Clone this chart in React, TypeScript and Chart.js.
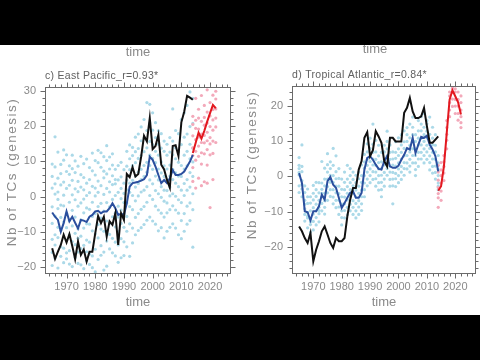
import { useEffect, useRef } from "react";
import { Chart, registerables } from "chart.js";
Chart.register(...registerables);

// ---------- data ----------
const histYears = [1965,1966,1967,1968,1969,1970,1971,1972,1973,1974,1975,1976,1977,1978,1979,1980,1981,1982,1983,1984,1985,1986,1987,1988,1989,1990,1991,1992,1993,1994,1995,1996,1997,1998,1999,2000,2001,2002,2003,2004,2005,2006,2007,2008,2009,2010,2011,2012,2013,2014];
const projYears = [2014,2015,2016,2017,2018,2019,2020,2021,2022];

const xMajorTicks = [1970,1980,1990,2000,2010,2020];
const epYTicks = [-20,-10,0,10,20,30];
const taYTicks = [-20,-10,0,10,20];

// East Pacific
const epObs = [-14.6,-17.6,-15.6,-13.7,-10.8,-13,-10.6,-14,-17.7,-12.7,-16.5,-15,-18.4,-15.6,-15.6,-10.4,-5.5,-7.5,-5.7,-11.3,-7,-8,-4.7,-13.7,-4.7,-6.6,6.4,5.5,8.3,5.7,6.4,11.3,17.2,15.6,22.2,13.4,14.3,17.5,9,7.7,4.7,2.5,14.3,14.5,11.5,21,24,28.5,28,27.4];
const epHist = [-4.5,-5.7,-6.6,-9.9,-7.5,-4.2,-7,-5.7,-7.4,-9,-6.6,-6.8,-7.2,-5.7,-5.2,-4.2,-4,-4.7,-4.2,-4.2,-3.3,-1.9,-3.3,-5.2,-4.9,-5.2,-1.9,2.8,3.8,4,4.2,4.5,4.9,6.1,11.3,10.4,8.5,6.1,3.8,4.7,3.8,5.2,7.5,6.1,6.1,6.4,7.1,8.5,9.9,11.8];
const epProj = [12.3,15.2,18.1,16.4,18.6,21.2,23.6,25.9,25];
const epHistMembers = [
  [-19.5,-15.8,-7.6,-2.9,2.4,5.7,9.2,-12.1],
  [-17.4,-10.8,-5.5,0.7,3.6,8.4,16.9,-13.7],
  [-20.2,-11.6,-8.7,-3.4,1.3,5.2,12.6,-0.8],
  [-16.9,-14.2,-9.6,-5.9,-2.4,3.3,9.1,6.5],
  [-18.7,-14.6,-7.2,-2.6,0.4,4.1,10.3,13.2],
  [-17.6,-15.9,-8.8,-4.7,2.3,7.1,11.8,-12.4],
  [-15.3,-10.9,-6.8,-1.6,3.2,6.3,8.7,-19.1],
  [-19.8,-12.7,-8.3,-3.9,0.5,4.6,7.9,11.7],
  [-17.2,-13.6,-10.4,-5.8,-0.9,2.2,6.8,10.1],
  [-15.7,-11.8,-9.1,-2.7,1.4,4.3,8.6,-18.9],
  [-19.3,-14.7,-11.2,-6.6,-1.8,2.7,6.2,11.4],
  [-20.4,-13.8,-8.9,-4.6,-0.7,1.9,5.4,9.3],
  [-18.1,-15.6,-12.3,-7.7,-3.2,0.3,3.8,10.6],
  [-19.2,-12.9,-7.8,-3.6,1.1,4.8,8.2,-16.3],
  [-20.1,-16.8,-9.7,-5.6,-1.6,2.9,7.3,12.3],
  [-21.3,-14.9,-10.6,-4.8,0.2,2.4,6.1,10.2],
  [-17.8,-11.7,-7.9,-2.8,1.2,4.4,9.6,13.1],
  [-16.6,-13.9,-9.2,-6.1,-1.9,3.1,8.3,12.4],
  [-20.8,-15.7,-9.8,-4.1,0.6,5.3,7.2,11.3],
  [-19.7,-12.6,-6.9,-1.7,2.3,6.4,10.2,14.4],
  [-14.8,-10.7,-7.6,-2.9,1.3,4.2,7.8,11.2],
  [-15.9,-11.8,-5.7,-0.8,3.4,5.9,8.9,12.1],
  [-16.8,-12.9,-8.6,-4.7,0.3,3.6,7.7,4.8],
  [-18.6,-13.7,-9.9,-5.8,-2.7,1.2,4.7,8.8],
  [-17.3,-11.9,-7.6,-3.8,-0.6,2.3,5.6,9.7],
  [-16.7,-12.8,-8.7,-4.9,-1.7,0.9,3.8,7.6],
  [-14.2,-9.8,-5.6,-1.8,1.9,4.7,8.6,12.8],
  [-16.9,-7.7,-2.8,1.2,3.8,7.6,10.7,14.6],
  [-13.1,-8.9,-3.7,0.3,4.6,8.8,11.6,13.9],
  [-10.8,-5.9,-1.2,2.7,5.8,9.6,12.7,16.8],
  [-9.6,-4.8,0.2,3.7,6.9,10.8,13.6,17.7],
  [-8.8,-3.6,1.3,4.8,7.7,11.6,15.8,19.7],
  [-7.9,-2.8,1.8,5.7,8.8,12.7,16.6,21.8],
  [-6.7,-1.6,2.8,6.9,9.7,13.8,18.7,26.6],
  [-5.8,0.3,4.7,8.8,11.7,15.6,20.8,26.1],
  [-6.9,-0.8,3.6,7.7,10.8,14.7,18.8,23.7],
  [-7.8,-2.7,1.7,5.8,9.6,12.8,16.7,20.9],
  [-9.7,-3.8,0.8,4.7,7.8,11.7,14.8,18.6],
  [-8.8,-4.7,-0.2,2.8,6.7,9.8,13.7,17.8],
  [-11.7,-5.8,-1.3,1.8,5.7,8.7,12.8,15.7],
  [-9.8,-4.6,-1.8,1.7,4.8,7.8,11.7,14.8],
  [-8.7,-3.7,0.2,2.7,5.8,8.9,12.6,16.7],
  [-7.7,-2.6,0.8,4.8,7.7,11.8,15.7,24.8],
  [-8.9,-3.8,0.1,3.8,6.7,10.7,13.8,18.7],
  [-10.8,-4.7,-0.9,2.8,5.8,9.7,12.7,17.8],
  [-11.9,-6.8,-1.7,1.8,5.7,8.8,14.7,21.8],
  [-9.8,-4.8,0.3,3.7,7.8,11.7,16.8,23.7],
  [-7.8,-2.7,1.8,4.8,8.7,12.8,17.7,25.8],
  [-6.8,-1.8,2.7,6.8,10.7,14.8,19.8,29.6],
  [-14.3,-3.7,0.8,5.7,9.8,13.7,20.7,27.8],
];
const epProjMembers = [
  [4.3,8.2,11.6,13.8,17.2,20.4,22.7],
  [2.4,10.3,12.8,16.1,19.3,21.6,27.8],
  [5.2,11.4,14.3,16.8,19.1,22.2,24.7],
  [3.1,9.2,12.4,15.3,17.7,21.3,28.6],
  [4.2,12.1,15.2,17.3,20.2,22.4,25.8],
  [3.8,8.9,13.3,15.8,18.2,20.8,23.9,30.2],
  [-3.1,11.8,14.9,16.7,19.8,22.8,26.6],
  [4.8,12.2,15.7,18.8,21.7,24.6,28.7,31.2],
  [15.3,19.7,22.2,24.8,27.6,29.8],
];

// Tropical Atlantic
const taObs = [-14.2,-15.6,-17.5,-18.9,-16.1,-24.1,-20.8,-18.4,-15.6,-14.2,-16.5,-18.9,-20.3,-17.5,-18.4,-18.4,-17.5,-11.3,-6.6,-3.3,-3.3,1.9,4.3,10.9,12.5,5.7,7.4,12.8,11.3,9.5,4.3,2.8,10.9,10.9,9.9,9.9,9.9,18,19.4,22.2,18.4,16.5,16.5,17,19.4,14.2,9.5,9.5,10.4,11.3];
const taHist = [0.9,-1.9,-9.9,-10.2,-12.5,-9.9,-9.9,-8.5,-5.2,-6.6,-1.4,-0.2,-2.4,-3.3,-6.1,-9,-7.6,-6.1,-4.7,-4.3,-6.1,-6.1,-4.7,1.9,5.2,5.7,4.7,3.3,2.1,1.9,4.3,5.7,2.8,2.4,2.4,3,4.7,6.1,8,7.6,10.9,6.6,9,11.2,10.9,11.5,9,7.6,5.7,1.4];
const taProj = [-4.1,-2.8,2.8,12.3,21.7,24.4,22.7,21,17.5];
const taHistMembers = [
  [-4.6,-2.7,0.4,2.2,3.1,5.3,1.1],
  [-5.8,-3.6,-1.2,1.3,2.8,8.9,-2.3],
  [-12.7,-10.8,-9.2,-6.8,-4.6,-2.7,-7.9],
  [-14.6,-11.8,-10.3,-7.7,-5.8,-3.6,-11.3],
  [-15.8,-13.7,-12.2,-9.8,-7.6,-5.8,-12.9],
  [-15.2,-12.8,-10.7,-8.9,-6.7,-4.8,-2.6],
  [-13.8,-11.7,-9.8,-7.9,-5.7,-3.8,-1.7],
  [-12.9,-10.6,-8.8,-6.8,-4.7,-1.8,-9.7],
  [-9.8,-7.7,-5.8,-3.7,-1.9,4.2,-4.8],
  [-10.7,-8.8,-6.9,-4.8,-2.7,-0.8,2.3],
  [-6.8,-4.7,-2.9,-0.8,1.2,3.3,6.4],
  [-5.7,-3.8,-1.7,0.3,2.2,4.1,-0.9],
  [-7.8,-5.9,-3.8,-1.7,0.2,7.9,3.1],
  [-8.9,-6.8,-4.7,-2.8,-0.7,1.3,5.8],
  [-10.8,-8.7,-6.8,-4.9,-2.8,-0.6,2.2],
  [-13.8,-11.7,-9.8,-7.9,-5.8,-3.7,-0.8],
  [-11.8,-9.7,-7.8,-5.9,-3.8,-1.7,1.2],
  [-10.9,-8.8,-6.7,-4.8,-2.9,-0.8,3.1],
  [-9.8,-7.9,-5.7,-3.8,-1.8,0.2,2.2],
  [-8.8,-6.9,-4.8,-2.7,-0.9,1.2,-10.8],
  [-11.8,-9.8,-7.7,-5.8,-3.9,-1.8,0.3],
  [-10.8,-8.7,-6.9,-4.8,-2.8,-0.7,1.2],
  [-9.7,-7.8,-5.8,-3.9,-1.7,0.2,3.2],
  [-3.8,-1.9,0.2,2.3,4.1,6.2,-5.8],
  [-0.8,1.2,3.1,4.8,6.9,9.2,-2.7],
  [0.2,2.1,4.2,5.8,7.9,10.8,-1.8],
  [-0.9,1.3,3.2,4.9,6.8,9.1,14.8],
  [-2.8,-0.7,1.2,3.1,4.8,6.9,10.2],
  [-3.9,-1.8,0.2,2.1,3.9,5.8,8.8],
  [-3.8,-1.7,0.3,2.2,4.1,6.8,-5.8],
  [-0.8,1.1,3.2,4.8,6.9,8.8,-2.8],
  [0.3,2.2,3.9,5.8,7.8,9.9,12.8],
  [-2.8,-0.9,1.2,2.9,4.8,6.8,8.9],
  [-2.7,-0.8,1.1,3.2,4.9,6.9,-7.8],
  [-2.9,-0.7,0.8,2.9,5.1,6.8,9.8],
  [-1.8,0.2,2.1,3.8,5.9,7.8,10.9],
  [-0.9,1.2,2.8,4.9,6.8,8.9,11.8],
  [0.3,2.2,3.9,5.8,7.9,9.8,12.9],
  [2.1,3.8,5.9,7.8,9.9,11.8,13.8],
  [1.2,2.9,4.8,6.9,8.8,10.9,14.8],
  [3.8,5.9,7.8,9.9,11.8,13.9,16.8],
  [0.2,1.9,3.8,5.9,7.8,9.9,11.8],
  [2.8,4.9,6.8,8.9,10.8,12.9,15.8],
  [4.9,6.8,8.9,10.8,12.9,14.8,16.9],
  [3.8,5.9,7.8,9.9,11.8,13.9,17.8],
  [4.8,6.9,8.8,10.9,12.8,14.9,15.8],
  [1.8,3.9,5.8,7.9,9.8,11.9,16.8],
  [0.9,2.8,4.9,6.8,8.9,10.8,13.9],
  [-0.8,1.1,2.9,4.8,6.9,8.8,11.8],
  [-3.8,-1.9,0.2,1.9,3.8,5.9,-2.8],
];
const taProjMembers = [
  [-8.8,-6.1,-4.9,-3.2,-1.1,1.2,3.1],
  [-6.8,-4.2,-1.9,0.2,1.8,3.9],
  [-1.2,0.9,2.8,4.1,5.9],
  [7.8,10.2,11.9,13.8,15.8],
  [16.9,18.8,20.9,22.8,23.9],
  [19.8,21.9,23.8,24.9,25.4],
  [17.8,19.9,21.8,23.9,24.8],
  [15.9,17.8,19.9,21.8,23.9],
  [13.8,15.2,16.9,18.8,20.9,22.8],
];

// ---------- helpers ----------
const FONT = "'Liberation Sans', Arial, sans-serif";
const TXT = "#8a8a8a";

function membersToPoints(yrs: number[], members: number[][]) {
  const pts: { x: number; y: number }[] = [];
  yrs.forEach((yr, i) => members[i].forEach((v) => pts.push({ x: yr, y: v })));
  return pts;
}
function seriesToPoints(yrs: number[], vals: number[]) {
  return yrs.map((yr, i) => ({ x: yr, y: vals[i] }));
}
function range(a: number, b: number, s: number) {
  const r: number[] = [];
  for (let v = a; v <= b + 1e-9; v += s) r.push(v);
  return r;
}

type PanelCfg = {
  title: string;
  yMin: number;
  yMax: number;
  yTicks: number[];
  obs: number[];
  hist: number[];
  proj: number[];
  histMembers: number[][];
  projMembers: number[][];
  padding: { left: number; right: number; top: number; bottom: number };
  yTitlePos: [number, number];
  topTimePos: [number, number];
};

function framePlugin(cfg: PanelCfg) {
  return {
    id: "frame",
    afterDraw(chart: any) {
      const { ctx, chartArea: a, scales } = chart;
      const xs = scales.x;
      const ys = scales.y;
      ctx.save();
      ctx.strokeStyle = "#6a6a6a";
      ctx.lineWidth = 1;
      const L = Math.round(a.left) + 0.5;
      const R = Math.round(a.right) - 0.5;
      const T = Math.round(a.top) + 0.5;
      const B = Math.round(a.bottom) - 0.5;
      ctx.strokeRect(L, T, R - L, B - T);
      ctx.beginPath();
      const xMinor = range(1964, 2026, 2);
      xMinor.forEach((v) => {
        const px = Math.round(xs.getPixelForValue(v)) + 0.5;
        const len = xMajorTicks.includes(v) ? 5 : 3;
        ctx.moveTo(px, B);
        ctx.lineTo(px, B + len);
        ctx.moveTo(px, T);
        ctx.lineTo(px, T - len);
      });
      const start = Math.ceil(cfg.yMin / 2) * 2;
      const yMinor = range(start, cfg.yMax, 2);
      yMinor.forEach((v) => {
        const py = Math.round(ys.getPixelForValue(v)) + 0.5;
        const len = cfg.yTicks.includes(v) ? 5 : 3;
        ctx.moveTo(L, py);
        ctx.lineTo(L - len, py);
        ctx.moveTo(R, py);
        ctx.lineTo(R + len, py);
      });
      ctx.stroke();

      ctx.fillStyle = TXT;
      ctx.font = `11px ${FONT}`;
      ctx.textAlign = "center";
      ctx.textBaseline = "middle";
      xMajorTicks.forEach((v) => {
        ctx.fillText(String(v), xs.getPixelForValue(v), a.bottom + 13);
      });
      ctx.textAlign = "right";
      cfg.yTicks.forEach((v) => {
        const lbl = v < 0 ? "\u2212" + Math.abs(v) : String(v);
        ctx.fillText(lbl, a.left - 9, ys.getPixelForValue(v));
      });

      ctx.font = `13px ${FONT}`;
      ctx.textAlign = "center";
      ctx.fillText("time", (a.left + a.right) / 2, a.bottom + 28);
      ctx.fillText("time", cfg.topTimePos[0], cfg.topTimePos[1]);

      ctx.save();
      ctx.translate(cfg.yTitlePos[0], cfg.yTitlePos[1]);
      ctx.rotate(-Math.PI / 2);
      ctx.font = `13.5px ${FONT}`;
      (ctx as any).letterSpacing = "1.5px";
      ctx.fillText("Nb of TCs (genesis)", 0, 0);
      ctx.restore();

      ctx.fillStyle = "#606060";
      ctx.font = `10.5px ${FONT}`;
      (ctx as any).letterSpacing = "0.3px";
      ctx.textAlign = "left";
      ctx.fillText(cfg.title, a.left, a.top - 11);
      ctx.restore();
    },
  };
}

function Panel({ cfg, left }: { cfg: PanelCfg; left: number }) {
  const ref = useRef<HTMLCanvasElement>(null);
  useEffect(() => {
    if (!ref.current) return;
    const chart = new Chart(ref.current, {
      type: "scatter",
      data: {
        datasets: [
          {
            label: "obs",
            data: seriesToPoints(histYears, cfg.obs),
            showLine: true,
            borderColor: "#111111",
            borderWidth: 2,
            pointRadius: 0,
            order: 1,
          } as any,
          {
            label: "hist",
            data: seriesToPoints(histYears, cfg.hist),
            showLine: true,
            borderColor: "#2b4f9e",
            borderWidth: 2,
            pointRadius: 0,
            order: 2,
          },
          {
            label: "proj",
            data: seriesToPoints(projYears, cfg.proj),
            showLine: true,
            borderColor: "#e3181f",
            borderWidth: 2,
            pointRadius: 0,
            order: 3,
          },
          {
            label: "histMembers",
            data: membersToPoints(histYears, cfg.histMembers),
            backgroundColor: "#abd9e8",
            borderWidth: 0,
            pointRadius: 1.6,
            order: 10,
          },
          {
            label: "projMembers",
            data: membersToPoints(projYears, cfg.projMembers),
            backgroundColor: "#f3a9ba",
            borderWidth: 0,
            pointRadius: 1.6,
            order: 9,
          },
        ],
      },
      options: {
        animation: false,
        responsive: false,
        events: [],
        layout: { padding: cfg.padding },
        plugins: { legend: { display: false }, tooltip: { enabled: false }, title: { display: false } },
        scales: {
          x: { type: "linear", min: 1962.5, max: 2027.3, display: false },
          y: { type: "linear", min: cfg.yMin, max: cfg.yMax, display: false },
        },
      },
      plugins: [framePlugin(cfg)],
    });
    return () => chart.destroy();
  }, [cfg]);
  return (
    <canvas
      ref={ref}
      width={240}
      height={270}
      style={{ position: "absolute", left, top: 45, width: 240, height: 270 }}
    />
  );
}

const epCfg: PanelCfg = {
  title: "c) East Pacific_r=0.93*",
  yMin: -21.9,
  yMax: 31.0,
  yTicks: epYTicks,
  obs: epObs,
  hist: epHist,
  proj: epProj,
  histMembers: epHistMembers,
  projMembers: epProjMembers,
  padding: { left: 45, right: 9, top: 42, bottom: 41 },
  yTitlePos: [12, 127],
  topTimePos: [138, 7],
};
const taCfg: PanelCfg = {
  title: "d) Tropical Atlantic_r=0.84*",
  yMin: -27.7,
  yMax: 25.6,
  yTicks: taYTicks,
  obs: taObs,
  hist: taHist,
  proj: taProj,
  histMembers: taHistMembers,
  projMembers: taProjMembers,
  padding: { left: 52, right: 3, top: 41, bottom: 41 },
  yTitlePos: [12, 120],
  topTimePos: [135, 4],
};

export default function App() {
  return (
    <div style={{ position: "fixed", left: 0, top: 0, width: 480, height: 360, background: "#000", overflow: "hidden" }}>
      <div style={{ position: "absolute", left: 0, top: 45, width: 480, height: 270, background: "#fff" }} />
      <Panel cfg={epCfg} left={0} />
      <Panel cfg={taCfg} left={240} />
    </div>
  );
}
